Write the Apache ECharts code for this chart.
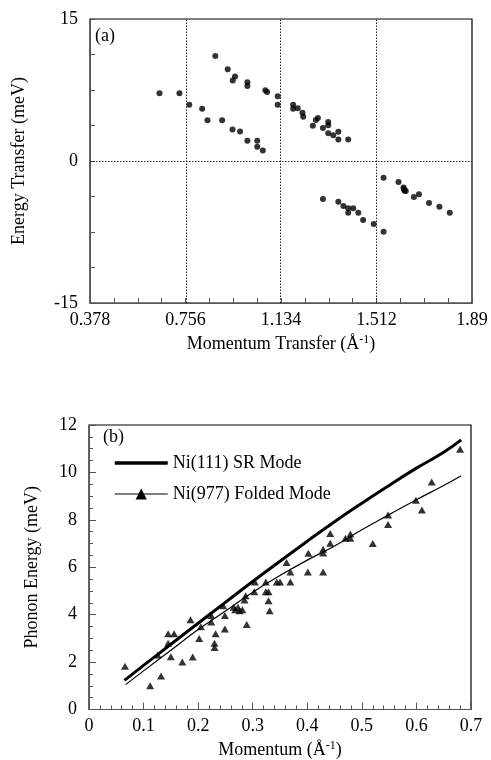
<!DOCTYPE html>
<html>
<head>
<meta charset="utf-8">
<script src="https://cdn.jsdelivr.net/npm/echarts@6/dist/echarts.min.js"></script>
<style>
  html, body { margin: 0; padding: 0; background: #fff; }
  #chart { width: 491px; height: 760px; }
</style>
</head>
<body>
<div id="chart"></div>
<script>
// Panel (a): measured energy transfer vs momentum transfer, four branches
const lowerLeftBranch = [
  [0.653, 7.15], [0.732, 7.15], [0.771, 5.95], [0.822, 5.53], [0.843, 4.31],
  [0.901, 4.31], [0.942, 3.33], [0.972, 3.12], [1.001, 2.13], [1.040, 2.13],
  [1.040, 1.50], [1.062, 1.10]
];
const upperLeftBranch = [
  [0.874, 11.08], [0.923, 9.70], [0.952, 8.92], [0.943, 8.50], [1.001, 8.32],
  [1.001, 7.92], [1.072, 7.48], [1.079, 7.29], [1.121, 6.83], [1.121, 5.93],
  [1.182, 5.95], [1.182, 5.52], [1.200, 5.57], [1.219, 5.10], [1.222, 4.68],
  [1.260, 3.72], [1.272, 4.33], [1.280, 4.54], [1.300, 3.49], [1.321, 4.12],
  [1.321, 3.78], [1.321, 2.92], [1.341, 2.71], [1.361, 3.09], [1.361, 2.27],
  [1.400, 2.27]
];
const lowerRightBranch = [
  [1.300, -4.01], [1.361, -4.30], [1.381, -4.75], [1.400, -5.00], [1.400, -5.46],
  [1.420, -5.00], [1.440, -5.46], [1.459, -6.23], [1.501, -6.65], [1.540, -7.48]
];
const upperRightBranch = [
  [1.540, -1.76], [1.599, -2.22], [1.619, -2.80], [1.620, -2.95], [1.623, -3.14],
  [1.628, -3.17], [1.660, -3.80], [1.680, -3.52], [1.720, -4.44], [1.761, -4.82],
  [1.802, -5.46]
];
const zoneBoundaries = [0.756, 1.134, 1.512];

// Panel (b): phonon dispersion
const srModeQ = [0.065, 0.1, 0.15, 0.2, 0.25, 0.3, 0.35, 0.4, 0.45, 0.5, 0.55, 0.6, 0.65, 0.682];
const srModeE = [1.23, 1.86, 2.75, 3.64, 4.52, 5.40, 6.25, 7.10, 7.92, 8.70, 9.45, 10.18, 10.85, 11.37];
const foldedQ = [0.067, 0.1, 0.15, 0.2, 0.25, 0.3, 0.35, 0.4, 0.45, 0.5, 0.55, 0.6, 0.65, 0.682];
const foldedE = [1.05, 1.63, 2.50, 3.37, 4.15, 4.95, 5.65, 6.30, 6.90, 7.58, 8.22, 8.85, 9.45, 9.86];
const measuredPoints = [
  [0.066, 1.82], [0.112, 1.00], [0.126, 2.30], [0.132, 1.41], [0.145, 3.20],
  [0.145, 2.79], [0.150, 2.22], [0.156, 3.20], [0.171, 2.00], [0.186, 3.79],
  [0.190, 2.21], [0.202, 2.99], [0.205, 3.49], [0.224, 3.97], [0.224, 3.69],
  [0.230, 2.79], [0.230, 2.61], [0.232, 3.20], [0.246, 4.38], [0.249, 3.40],
  [0.249, 3.96], [0.265, 4.31], [0.268, 4.21], [0.273, 4.31], [0.276, 4.17],
  [0.281, 4.21], [0.285, 4.62], [0.287, 4.80], [0.289, 3.58], [0.303, 4.97],
  [0.304, 5.38], [0.324, 5.38], [0.324, 4.97], [0.329, 4.97], [0.329, 4.59],
  [0.331, 4.17], [0.344, 5.38], [0.350, 5.38], [0.362, 6.20], [0.369, 5.80],
  [0.369, 5.38], [0.401, 5.80], [0.402, 6.59], [0.429, 6.76], [0.429, 6.60],
  [0.429, 5.80], [0.442, 7.01], [0.442, 7.42], [0.470, 7.22], [0.479, 7.40],
  [0.479, 7.22], [0.520, 7.00], [0.548, 8.20], [0.548, 7.80], [0.599, 8.83],
  [0.610, 8.41], [0.628, 9.60], [0.680, 10.98]
];

const FONT = 'Liberation Serif';
const INK = '#000';

function pairs(xs, ys) { return xs.map((x, i) => [x, ys[i]]); }

const baseText = { fontFamily: FONT, fontSize: 18, color: INK };
const supRich = { sup: { fontFamily: FONT, fontSize: 12, color: INK, padding: [0, 0, 9, 0] } };

// Shared axis styling; the black frame comes from the grid border,
// split lines are kept but made invisible.
function valueAxis(major, minor, splits, extra) {
  return Object.assign({
    type: 'value',
    axisLine: { show: true },
    axisTick: { show: true, inside: true, length: major },
    minorTick: { show: true, splitNumber: splits, length: minor },
    splitLine: { show: true, lineStyle: { opacity: 0 } },
    nameLocation: 'middle',
    nameTextStyle: Object.assign({ rich: supRich }, baseText)
  }, extra);
}

const chart = echarts.init(document.getElementById('chart'));

const dotted = { color: '#222', width: 1, type: [1.5, 1.5] };

chart.setOption({
  animation: false,
  backgroundColor: '#fff',
  title: [
    { text: '(a)', left: 95, top: 27, padding: 0, textStyle: Object.assign({}, baseText, { fontWeight: 'normal' }) },
    { text: '(b)', left: 103, top: 428, padding: 0, textStyle: Object.assign({}, baseText, { fontWeight: 'normal' }) }
  ],
  legend: {
    data: [
      { name: 'Ni(111) SR Mode', itemStyle: { opacity: 0 }, lineStyle: { width: 3.5, color: INK } },
      { name: 'Ni(977) Folded Mode', lineStyle: { width: 1.2, color: INK } }
    ],
    orient: 'vertical',
    left: 113,
    top: 454,
    padding: 0,
    itemWidth: 53,
    itemHeight: 14,
    itemGap: 13,
    textStyle: Object.assign({}, baseText),
    selectedMode: false
  },
  grid: [
    { left: 90, right: 19, top: 19, height: 284, show: true, borderColor: INK, borderWidth: 1.2 },
    { left: 89, right: 20, top: 425, height: 286, show: true, borderColor: INK, borderWidth: 1.2 }
  ],
  xAxis: [
    valueAxis(5, 5, 4, {
      gridIndex: 0, min: 0.378, max: 1.89, interval: 0.378,
      axisLine: { show: true, onZero: false },
      axisLabel: Object.assign({ margin: 8, formatter: v => String(Math.round(v * 1000) / 1000) }, baseText),
      name: 'Momentum Transfer (Å{sup|-1})', nameGap: 31
    }),
    valueAxis(7, 4, 5, {
      gridIndex: 1, min: 0, max: 0.7, interval: 0.1,
      axisLabel: Object.assign({ margin: 8, formatter: v => String(Math.round(v * 10) / 10) }, baseText),
      name: 'Momentum (Å{sup|-1})', nameGap: 30
    })
  ],
  yAxis: [
    valueAxis(5, 5, 4, {
      gridIndex: 0, min: -15, max: 15, interval: 15,
      axisLabel: Object.assign({ margin: 12 }, baseText),
      name: 'Energy Transfer (meV)', nameGap: 62
    }),
    valueAxis(7, 4, 4, {
      gridIndex: 1, min: 0, max: 12, interval: 2,
      axisLabel: Object.assign({ margin: 12 }, baseText),
      name: 'Phonon Energy (meV)', nameGap: 48
    })
  ],
  series: [
    {
      name: 'lower-left', type: 'scatter', xAxisIndex: 0, yAxisIndex: 0,
      data: lowerLeftBranch, symbol: 'circle', symbolSize: 6, itemStyle: { color: INK },
      markLine: {
        silent: true, symbol: ['none', 'none'], label: { show: false },
        lineStyle: dotted,
        data: zoneBoundaries.map(q => ({ xAxis: q })).concat([{ yAxis: 0 }])
      }
    },
    { name: 'upper-left', type: 'scatter', xAxisIndex: 0, yAxisIndex: 0,
      data: upperLeftBranch, symbol: 'circle', symbolSize: 6, itemStyle: { color: INK } },
    { name: 'lower-right', type: 'scatter', xAxisIndex: 0, yAxisIndex: 0,
      data: lowerRightBranch, symbol: 'circle', symbolSize: 6, itemStyle: { color: INK } },
    { name: 'upper-right', type: 'scatter', xAxisIndex: 0, yAxisIndex: 0,
      data: upperRightBranch, symbol: 'circle', symbolSize: 6, itemStyle: { color: INK } },

    {
      name: 'Ni(111) SR Mode', type: 'line', xAxisIndex: 1, yAxisIndex: 1,
      data: pairs(srModeQ, srModeE), smooth: true, symbol: 'none',
      lineStyle: { color: INK, width: 3 }, itemStyle: { color: INK }
    },
    {
      name: 'Ni(977) Folded Mode', type: 'line', xAxisIndex: 1, yAxisIndex: 1,
      data: pairs(foldedQ, foldedE), smooth: true, symbol: 'triangle', symbolSize: 8,
      showSymbol: false, lineStyle: { color: INK, width: 1.2 }, itemStyle: { color: INK }
    },
    {
      name: 'measured', type: 'scatter', xAxisIndex: 1, yAxisIndex: 1,
      data: measuredPoints, symbol: 'triangle', symbolSize: [8, 7], itemStyle: { color: INK }
    }
  ]
});
</script>
</body>
</html>
